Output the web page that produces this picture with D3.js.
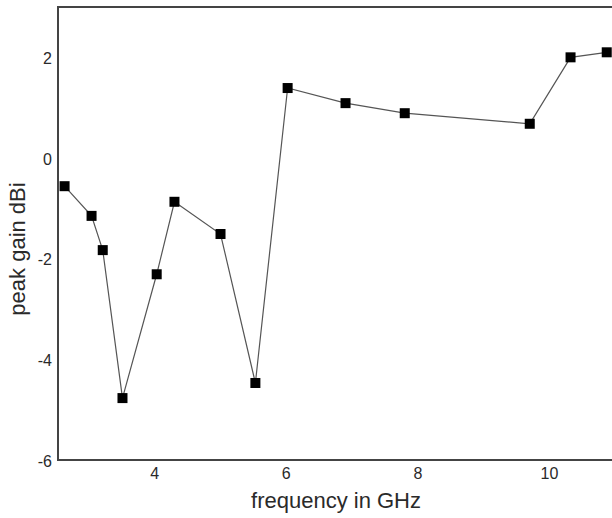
<!DOCTYPE html>
<html>
<head>
<meta charset="utf-8">
<script src="https://cdn.jsdelivr.net/npm/d3@7"></script>
<style>
  body { margin: 0; background: #fff; }
  svg { display: block; font-family: "Liberation Sans", Arial, sans-serif; }
</style>
</head>
<body>
<svg id="chart"></svg>
<script>
// peak gain vs frequency
const freqGHz = [2.63, 3.04, 3.21, 3.51, 4.03, 4.30, 5.0, 5.53, 6.02, 6.90, 7.80, 9.70, 10.32, 10.87];
const gainDbi = [-0.56, -1.15, -1.83, -4.77, -2.31, -0.87, -1.51, -4.47, 1.39, 1.09, 0.89, 0.68, 2.0, 2.1];
const xTicks = [4, 6, 8, 10];
const yTicks = [2, 0, -2, -4, -6];

const width = 612, height = 518;
const marginLeft = 58, marginTop = 7, marginBottom = 58;

const svg = d3.select('#chart')
  .attr('width', width)
  .attr('height', height);

const x = d3.scaleLinear().domain([2.53, 10.95]).range([marginLeft, width]);
const y = d3.scaleLinear().domain([-6, 3]).range([height - marginBottom, marginTop]);

const data = freqGHz.map((f, i) => ({ f: f, g: gainDbi[i] }));

// frame: left, top, bottom (right side is cut off)
svg.append('path')
  .attr('d', `M${width},${marginTop}H${marginLeft}V${height - marginBottom}H${width}`)
  .attr('fill', 'none')
  .attr('stroke', '#444')
  .attr('stroke-width', 2);

// y tick labels
svg.append('g').selectAll('text')
  .data(yTicks)
  .join('text')
  .attr('x', marginLeft - 6)
  .attr('y', (d) => y(d) + 1)
  .attr('dy', '0.35em')
  .attr('text-anchor', 'end')
  .style('font-size', '16px')
  .attr('fill', '#2a2a2a')
  .text((d) => d);

// x tick labels
svg.append('g').selectAll('text')
  .data(xTicks)
  .join('text')
  .attr('x', (d) => x(d))
  .attr('y', height - marginBottom + 19)
  .attr('text-anchor', 'middle')
  .style('font-size', '16px')
  .attr('fill', '#2a2a2a')
  .text((d) => d);

// axis titles
svg.append('text')
  .attr('x', 336)
  .attr('y', 508)
  .attr('text-anchor', 'middle')
  .style('font-size', '22px')
  .attr('fill', '#2a2a2a')
  .text('frequency in GHz');

svg.append('text')
  .attr('transform', `translate(25,${249}) rotate(-90)`)
  .attr('text-anchor', 'middle')
  .style('font-size', '22px')
  .attr('fill', '#2a2a2a')
  .text('peak gain dBi');

// line
const line = d3.line().x((d) => x(d.f)).y((d) => y(d.g));
svg.append('path')
  .datum(data)
  .attr('d', line)
  .attr('fill', 'none')
  .attr('stroke', '#555')
  .attr('stroke-width', 1.2);

// square markers
const s = 10;
svg.append('g').selectAll('rect')
  .data(data)
  .join('rect')
  .attr('x', (d) => x(d.f) - s / 2)
  .attr('y', (d) => y(d.g) - s / 2)
  .attr('width', s)
  .attr('height', s)
  .attr('fill', '#000');
</script>
</body>
</html>
